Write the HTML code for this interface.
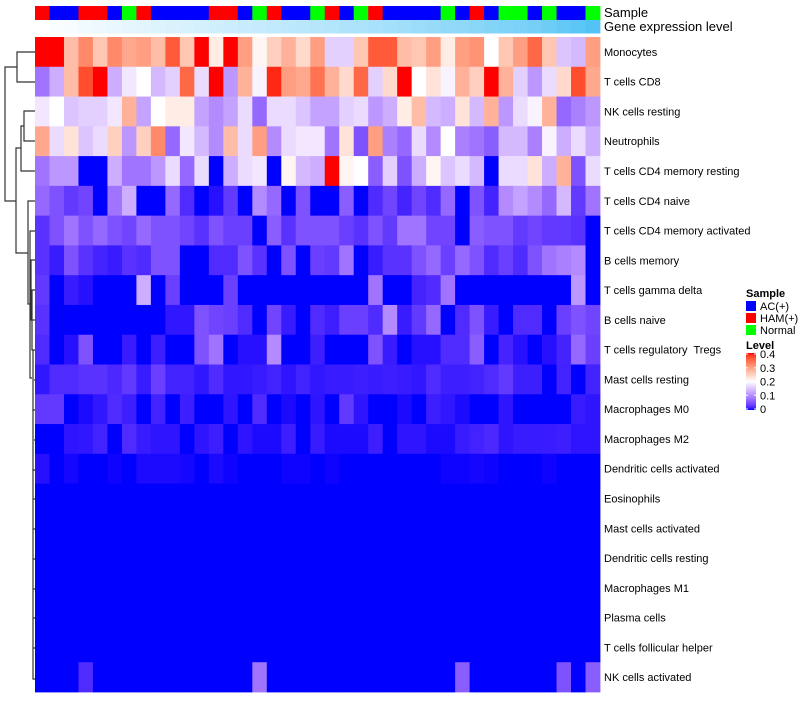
<!DOCTYPE html>
<html><head><meta charset="utf-8"><style>
body{margin:0;background:#fff;}
svg text{font-family:"Liberation Sans",sans-serif;white-space:pre;}
</style></head><body>
<svg id="chart" width="800" height="700" xmlns="http://www.w3.org/2000/svg" xml:space="preserve">
<g id="dendro" stroke="#333" stroke-width="1.2" fill="none">
<path d="M35 52H17V82H35"/>
<path d="M35 111H24V141H35"/>
<path d="M24 126H21V171H35"/>
<path d="M21 148H16V253H28"/>
<path d="M17 67H5V201H16"/>
<path d="M35 201H28V304H30"/>
<path d="M35 231H30V378H31"/>
<path d="M35 260H31V320H32"/>
<path d="M35 290H32V350H33"/>
<path d="M35 320H32"/>
<path d="M31 378H32"/>
<path d="M35 350H33V410H34"/>
<path d="M35 380H34"/>
<path d="M35 410H33V470H34"/>
<path d="M35 440H34"/>
<path d="M35 470H33V679H35"/>
<path d="M35 499H33M35 529H33M35 559H33M35 589H33M35 618H33M35 648H33"/>
</g>
<g id="samplebar"></g>
<g id="genebar"></g>
<g id="cells"></g>
<g id="rowlabels" font-size="11" fill="#000"></g>
<text x="604" y="17" font-size="13">Sample</text>
<text x="604" y="31" font-size="13">Gene expression level</text>
<g id="legend">
<text x="746" y="297" font-size="11" font-weight="bold">Sample</text>
<rect x="746" y="301" width="10" height="10" fill="#0000ff"/>
<text x="760" y="310" font-size="11">AC(+)</text>
<rect x="746" y="313" width="10" height="10" fill="#ff0000"/>
<text x="760" y="322" font-size="11">HAM(+)</text>
<rect x="746" y="325" width="10" height="10" fill="#00ff00"/>
<text x="760" y="334" font-size="11">Normal</text>
<text x="746" y="349" font-size="11" font-weight="bold">Level</text>
<defs><linearGradient id="lg" x1="0" y1="1" x2="0" y2="0"></linearGradient></defs>
<rect x="746" y="353" width="10" height="57" fill="url(#lg)"/>
<g id="legticks"></g>
</g>
</svg>
<script>
const rowNames=["Monocytes","T cells CD8","NK cells resting","Neutrophils","T cells CD4 memory resting","T cells CD4 naive","T cells CD4 memory activated","B cells memory","T cells gamma delta","B cells naive","T cells regulatory  Tregs","Mast cells resting","Macrophages M0","Macrophages M2","Dendritic cells activated","Eosinophils","Mast cells activated","Dendritic cells resting","Macrophages M1","Plasma cells","T cells follicular helper","NK cells activated"];
const sampleGroups=["H","A","A","H","H","A","N","H","A","A","A","A","H","H","A","N","H","A","A","N","H","A","N","H","A","A","A","A","N","A","H","A","N","N","A","N","A","A","N"];
const geneLevel=[0,0.03,0.05,0.08,0.1,0.12,0.14,0.16,0.18,0.2,0.22,0.24,0.26,0.28,0.3,0.32,0.34,0.36,0.38,0.4,0.42,0.44,0.46,0.48,0.5,0.52,0.55,0.57,0.6,0.62,0.65,0.68,0.7,0.73,0.76,0.8,0.85,0.9,0.95];
const r0=[0.4,0.4,0.27,0.32,0.26,0.32,0.29,0.3,0.27,0.36,0.26,0.4,0.22,0.4,0.3,0.21,0.25,0.28,0.24,0.3,0.16,0.16,0.26,0.36,0.36,0.27,0.26,0.3,0.22,0.3,0.31,0.2,0.26,0.3,0.35,0.26,0.15,0.14,0.3];
const r1=[0.08,0.13,0.27,0.37,0.4,0.13,0.18,0.2,0.14,0.16,0.35,0.17,0.4,0.11,0.28,0.19,0.39,0.3,0.29,0.34,0.28,0.24,0.35,0.16,0.24,0.4,0.2,0.23,0.19,0.28,0.25,0.4,0.28,0.16,0.11,0.17,0.24,0.37,0.29];
const r2=[0.18,0.2,0.15,0.16,0.16,0.18,0.28,0.12,0.2,0.22,0.22,0.12,0.1,0.12,0.17,0.07,0.17,0.17,0.15,0.12,0.12,0.16,0.17,0.11,0.13,0.22,0.27,0.14,0.13,0.23,0.14,0.28,0.11,0.17,0.19,0.28,0.07,0.09,0.11];
const r3=[0.29,0.17,0.23,0.15,0.17,0.25,0.11,0.25,0.32,0.07,0.18,0.14,0.1,0.27,0.17,0.3,0.1,0.17,0.18,0.18,0.08,0.23,0.05,0.3,0.09,0.07,0.17,0.1,0.2,0.09,0.08,0.06,0.14,0.14,0.09,0.19,0.13,0.17,0.13];
const r4=[0.08,0.11,0.11,0,0,0.13,0.08,0.08,0.11,0.17,0.07,0.17,0,0.13,0.17,0.18,0,0.21,0.14,0.13,0.4,0.21,0.2,0.06,0.16,0.05,0.13,0.21,0.15,0.17,0.14,0,0.17,0.17,0.23,0.13,0.28,0.05,0.17];
const r5=[0.07,0.05,0.03,0.04,0,0.08,0.13,0,0,0.07,0.02,0,0.005,0.03,0,0.1,0.07,0,0.05,0,0,0.06,0,0.02,0.04,0.015,0.04,0.02,0.07,0,0.05,0.015,0.1,0.12,0.1,0.07,0.14,0.03,0.08];
const r6=[0.025,0.05,0.08,0.05,0.07,0.05,0.04,0.07,0.05,0.05,0.04,0.025,0.05,0.035,0.035,0,0.06,0.025,0.05,0.05,0.05,0.035,0.025,0.05,0.03,0.08,0.08,0.04,0.04,0,0.06,0.05,0.05,0.03,0.04,0.03,0.03,0.025,0];
const r7=[0.025,0.01,0.05,0.025,0.015,0.01,0.025,0.02,0.05,0.05,0,0,0.02,0.02,0.05,0.025,0,0.05,0,0.035,0.03,0.08,0,0.01,0.025,0.025,0.05,0.07,0.035,0.07,0.05,0.02,0.035,0.02,0.05,0.08,0.09,0.1,0];
const r8=[0.03,0,0.01,0.005,0,0,0,0.13,0,0.035,0,0,0,0.035,0,0,0,0,0,0,0,0,0,0.08,0,0,0.015,0.02,0.08,0,0,0,0,0,0,0,0,0.11,0];
const r9=[0.025,0,0,0,0,0,0,0,0,0.008,0.008,0.05,0.04,0.035,0.02,0,0.04,0.01,0,0.02,0.012,0.035,0.035,0.02,0.1,0.01,0.03,0.07,0,0.02,0.05,0.01,0,0.02,0.02,0,0.035,0.05,0.04];
const r10=[0.02,0,0.005,0.05,0,0,0.01,0,0.012,0,0,0.05,0.08,0,0.005,0.005,0.1,0,0,0.012,0,0,0,0.05,0.01,0,0.005,0.005,0.02,0.02,0.06,0,0.015,0.005,0,0.005,0.015,0.07,0.035];
const r11=[0.008,0.02,0.02,0.025,0.025,0.018,0.03,0.01,0.035,0.014,0.014,0.008,0.02,0.008,0.008,0.01,0.014,0.007,0.014,0.008,0.01,0.01,0.012,0.01,0.012,0.01,0.008,0.02,0.012,0.012,0.014,0.02,0.03,0.012,0.012,0,0.014,0,0.014];
const r12=[0.03,0.03,0,0.003,0.008,0.02,0.012,0,0.014,0,0.012,0,0,0.007,0,0.02,0,0.003,0,0.007,0,0.03,0.007,0,0,0.003,0,0.012,0.008,0.003,0,0,0.007,0,0,0,0,0.01,0.007];
const r13=[0,0,0.007,0.008,0.014,0,0.02,0.01,0.007,0.007,0,0.007,0.012,0,0.007,0.003,0.003,0.012,0,0.01,0.003,0.003,0.003,0.012,0,0.007,0.007,0.003,0.003,0.01,0.014,0.018,0.007,0.01,0.01,0.01,0.012,0.007,0.007];
const r14=[0.005,0,0.002,0,0,0.001,0,0.003,0.003,0.003,0.002,0,0.003,0.001,0,0,0,0.001,0.001,0,0.001,0,0,0,0,0,0,0,0.001,0.001,0.002,0.001,0,0,0,0.001,0,0,0];
const r15=[0,0,0,0,0,0,0,0,0,0,0,0,0,0,0,0,0,0,0,0,0,0,0,0,0,0,0,0,0,0,0,0,0,0,0,0,0,0,0];
const r16=[0,0,0,0,0,0,0,0,0,0,0,0,0,0,0,0,0,0,0,0,0,0,0,0,0,0,0,0,0,0,0,0,0,0,0,0,0,0,0];
const r17=[0,0,0,0,0,0,0,0,0,0,0,0,0,0,0,0,0,0,0,0,0,0,0,0,0,0,0,0,0,0,0,0,0,0,0,0,0,0,0];
const r18=[0,0,0,0,0,0,0,0,0,0,0,0,0,0,0,0,0,0,0,0,0,0,0,0,0,0,0,0,0,0,0,0,0,0,0,0,0,0,0];
const r19=[0,0,0,0,0,0,0,0,0,0,0,0,0,0,0,0,0,0,0,0,0,0,0,0,0,0,0,0,0,0,0,0,0,0,0,0,0,0,0];
const r20=[0,0,0,0,0,0,0,0,0,0,0,0,0,0,0,0,0,0,0,0,0,0,0,0,0,0,0,0,0,0,0,0,0,0,0,0,0,0,0];
const r21=[0,0,0,0.02,0,0,0,0,0,0,0,0,0,0,0,0.08,0,0,0,0,0,0,0,0,0,0,0,0,0,0.06,0,0,0,0,0,0,0.05,0,0.06];
const matrix=[r0,r1,r2,r3,r4,r5,r6,r7,r8,r9,r10,r11,r12,r13,r14,r15,r16,r17,r18,r19,r20,r21];
const legendTicks=[0,0.1,0.2,0.3,0.4];

const NS="http://www.w3.org/2000/svg";
const X0=35,X1=600,Y0=37,Y1=692;
const nCol=sampleGroups.length,nRow=rowNames.length;
const cw=(X1-X0)/nCol,rh=(Y1-Y0)/nRow;
const xPos=j=>X0+j*cw, yPos=i=>Y0+i*rh;
function s2l(c){c/=255;return c<=0.04045?c/12.92:Math.pow((c+0.055)/1.055,2.4);}
function l2s(c){c=c<=0.0031308?12.92*c:1.055*Math.pow(c,1/2.4)-0.055;return Math.max(0,Math.min(255,Math.round(c*255)));}
function toLab(r,g,b){r=s2l(r);g=s2l(g);b=s2l(b);let x=(0.4124*r+0.3576*g+0.1805*b)/0.95047,y=0.2126*r+0.7152*g+0.0722*b,z=(0.0193*r+0.1192*g+0.9505*b)/1.08883;const f=t=>t>0.008856?Math.cbrt(t):7.787*t+16/116;x=f(x);y=f(y);z=f(z);return[116*y-16,500*(x-y),200*(y-z)];}
function fromLab(L,a,b){let y=(L+16)/116,x=a/500+y,z=y-b/200;const f=t=>t*t*t>0.008856?t*t*t:(t-16/116)/7.787;x=f(x)*0.95047;y=f(y);z=f(z)*1.08883;const r=3.2406*x-1.5372*y-0.4986*z,g=-0.9689*x+1.8758*y+0.0415*z,bb=0.0557*x-0.2040*y+1.0570*z;return`rgb(${l2s(r)},${l2s(g)},${l2s(bb)})`;}
const cBlue=toLab(0,0,255),cWhite=toLab(255,255,255),cRed=toLab(255,0,0);
function col(v){v=Math.max(0,Math.min(0.4,v));let a,b,t;if(v<=0.2){a=cBlue;b=cWhite;t=v/0.2;}else{a=cWhite;b=cRed;t=(v-0.2)/0.2;}return fromLab(a[0]+(b[0]-a[0])*t,a[1]+(b[1]-a[1])*t,a[2]+(b[2]-a[2])*t);}
const groupColor={A:"#0000ff",H:"#ff0000",N:"#00ff00"};
function geneCol(t){const r=Math.round(255+(74-255)*t),g=Math.round(255+(192-255)*t),b=Math.round(255+(245-255)*t);return`rgb(${r},${g},${b})`;}

const sb=document.getElementById('samplebar'),gb=document.getElementById('genebar'),cells=document.getElementById('cells');
sampleGroups.forEach((s,j)=>{
 const r=document.createElementNS(NS,'rect');
 r.setAttribute('x',xPos(j));r.setAttribute('y',6);r.setAttribute('width',cw+0.4);r.setAttribute('height',14);r.setAttribute('fill',groupColor[s]);
 
 
 sb.appendChild(r);
});
geneLevel.forEach((g,j)=>{
 const r=document.createElementNS(NS,'rect');
 r.setAttribute('x',xPos(j));r.setAttribute('y',20);r.setAttribute('width',cw+0.4);r.setAttribute('height',13.5);r.setAttribute('fill',geneCol(g));
 
 
 gb.appendChild(r);
});
matrix.forEach((row,i)=>{
 row.forEach((v,j)=>{
  const r=document.createElementNS(NS,'rect');
  r.setAttribute('x',xPos(j));r.setAttribute('y',yPos(i));r.setAttribute('width',cw+0.4);r.setAttribute('height',rh+0.4);r.setAttribute('fill',col(v));
  
  
  cells.appendChild(r);
 });
});
const rl=document.getElementById('rowlabels');
rowNames.forEach((n,i)=>{
 const t=document.createElementNS(NS,'text');
 t.setAttribute('x',604);t.setAttribute('y',yPos(i)+rh/2+4);t.textContent=n;
 
 
 rl.appendChild(t);
});
const lg=document.getElementById('lg');
for(let k=0;k<=20;k++){const s=document.createElementNS(NS,'stop');s.setAttribute('offset',k/20);s.setAttribute('stop-color',col(0.4*k/20));lg.appendChild(s);}
const lt=document.getElementById('legticks');
legendTicks.forEach(v=>{
 const y=409-(v/0.4)*55;
 const t=document.createElementNS(NS,'text');
 t.setAttribute('x',760);t.setAttribute('y',y+4);t.setAttribute('font-size','11');t.textContent=String(v);
 
 
 lt.appendChild(t);
 const l=document.createElementNS(NS,'path');
 l.setAttribute('d',`M746 ${y}h2M754 ${y}h2`);l.setAttribute('stroke','#fff');l.setAttribute('stroke-width','1');
 
 
 lt.appendChild(l);
});
</script>
</body></html>
